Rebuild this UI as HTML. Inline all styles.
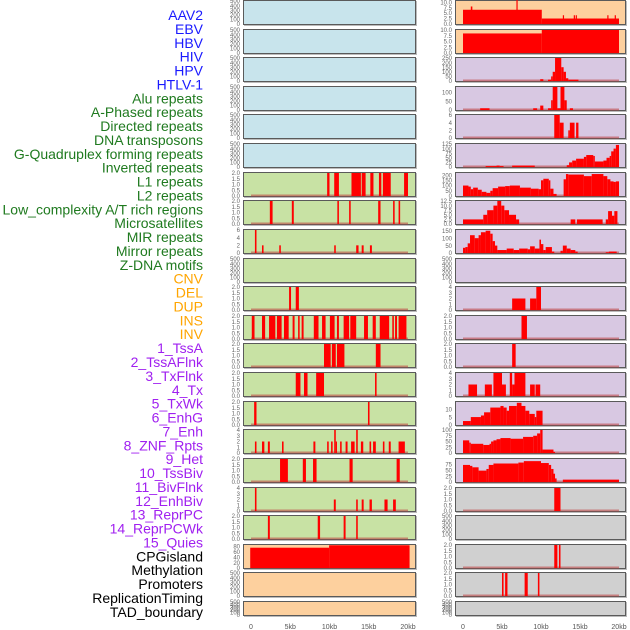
<!DOCTYPE html>
<html><head><meta charset="utf-8"><style>
html,body{margin:0;padding:0;background:#fff;}
svg{display:block;font-family:"Liberation Sans",sans-serif;}
</style></head><body>
<svg id="chart" width="630" height="630" viewBox="0 0 630 630" xmlns="http://www.w3.org/2000/svg">
<g id="labels"></g>
<g id="panels"></g>
<g id="xaxes"></g>
</svg>
<script>
// ---- data ----
const trackLabels = ["AAV2","EBV","HBV","HIV","HPV","HTLV-1","Alu repeats","A-Phased repeats","Directed repeats","DNA transposons","G-Quadruplex forming repeats","Inverted repeats","L1 repeats","L2 repeats","Low_complexity A/T rich regions","Microsatellites","MIR repeats","Mirror repeats","Z-DNA motifs","CNV","DEL","DUP","INS","INV","1_TssA","2_TssAFlnk","3_TxFlnk","4_Tx","5_TxWk","6_EnhG","7_Enh","8_ZNF_Rpts","9_Het","10_TssBiv","11_BivFlnk","12_EnhBiv","13_ReprPC","14_ReprPCWk","15_Quies","CPGisland","Methylation","Promoters","ReplicationTiming","TAD_boundary"];
const labelGroups = [6,13,5,15,5];
const labelColors = ["#1a1aff","#1f7a1f","#ffa500","#a020f0","#000000"];
const xTickValues = [0,5,10,15,20];
const xTickLabels = ["0","5kb","10kb","15kb","20kb"];
const E = [0,100,200,300,400,500];
const leftTicks = [E,E,E,E,E,E,[0,0.5,1,1.5,2],[0,0.5,1,1.5,2],[0,2,4,6],E,[0,0.5,1,1.5,2],[0,0.5,1,1.5,2],[0,0.5,1,1.5,2],[0,0.5,1,1.5,2],[0,0.5,1,1.5,2],[0,1,2,3,4],[0,0.5,1,1.5,2],[0,1,2,3,4],[0,0.5,1,1.5,2],[0,20,40,60,80],E,E];
const leftMax = [500,500,500,500,500,500,2,2,6,500,2,2,2,2,2,4,2,4,2,85,500,500];
const leftSegs = [[],[],[],[],[],[],
[[9.7,10.0,2],[10.6,11.2,2],[12.8,14.0,2],[14.1,14.6,2],[15.2,15.6,2],[16.3,16.6,2],[16.8,17.8,2],[19.5,20.0,2]],
[[2.4,2.75,2],[5.2,5.45,2],[11.0,11.2,2],[12.5,12.7,2],[16.2,16.5,2],[18.1,18.3,2],[18.8,19.0,2]],
[[0.5,0.7,6],[1.4,1.6,2],[3.6,3.8,2],[10.6,10.8,2],[13.4,13.7,2],[14.1,14.35,2],[15.15,15.4,2]],
[],
[[4.85,5.1,2],[5.7,6.1,2]],
[[0.1,0.45,2],[1.4,1.8,2],[2.3,3.1,2],[3.3,3.9,2],[4.2,4.8,2],[5.3,5.55,2],[6.0,6.2,2],[6.45,6.7,2],[8.0,8.6,2],[9.05,9.5,2],[10.05,10.65,2],[10.95,11.2,2],[11.8,12.5,2],[12.65,13.4,2],[14.4,14.9,2],[15.5,15.9,2],[16.4,17.6,2],[18.0,18.2,2],[18.35,18.6,2],[18.8,19.8,2]],
[[9.3,10.15,2],[10.3,10.8,2],[10.95,11.9,2],[15.9,16.5,2]],
[[5.7,6.3,2],[6.75,7.2,2],[8.3,9.3,2],[15.8,16.0,2]],
[[0.4,0.7,2],[14.9,15.1,2]],
[[0.5,0.7,2],[1.4,1.7,2],[2.15,2.4,2],[3.95,4.15,2],[7.95,8.2,2],[9.7,9.9,2],[10.2,10.4,2],[10.6,10.8,4],[10.8,10.9,2],[11.35,11.55,2],[12.05,12.3,2],[12.75,13.2,2],[13.4,13.6,4],[14.0,14.3,2],[15.1,15.3,2],[15.55,15.9,2],[16.8,17.0,2],[17.55,17.8,2],[18.8,19.6,2]],
[[3.7,4.7,2],[6.6,7.0,2],[7.9,8.35,2],[12.55,12.95,2],[18.55,18.95,2]],
[[0.5,0.7,4],[10.55,10.8,2],[13.4,13.6,2],[14.1,14.35,2],[15.1,15.4,2],[17.0,17.4,2],[18.1,18.45,2]],
[[2.15,2.4,2],[8.5,8.8,2],[11.8,12.05,2],[13.4,13.6,2]],
[[-0.1,9.95,75],[9.95,20.2,84]],
[],[]];
const rightTicks = [[0,2.5,5,7.5,10],[0,2.5,5,7.5,10],[0,50,100,150,200,250],[0,50,100],[0,2,4,6],[0,25,50,75,100,125],[0,50,100,150,200],[0,2.5,5,7.5,10,12.5],[0,50,100,150],E,[0,1,2,3,4],[0,0.5,1,1.5,2],[0,0.5,1,1.5,2],[0,1,2,3,4],[0,5,10],[0,25,50,75,100],[0,25,50,75],[0,0.5,1,1.5,2],E,[0,0.5,1,1.5,2],[0,0.5,1,1.5,2],E];
const rightMax = [10.5,10,250,130,6,125,220,12.5,155,500,4,2,2,4,14.5,100,97,2,500,2,2,500];
const rightSegs = [
[[0,10.1,6.5],[1.0,1.2,8],[6.85,7.0,11],[10.1,20,2.5],[12.8,12.95,4],[14.2,14.3,4],[14.45,14.55,4],[18.5,18.6,4],[19.45,19.55,4]],
[[0,10.1,8.5],[10.1,20,10]],
[[9.9,10.3,20],[10.9,11.3,15],[11.3,11.5,50],[11.5,11.8,100],[11.8,12.6,250],[12.6,12.9,150],[12.9,13.2,100],[13.2,13.5,30],[13.5,14.8,15]],
[[2.2,3.4,10],[9.0,9.5,10],[9.9,10.3,25],[10.9,11.3,10],[11.3,11.5,55],[11.5,12.1,130],[12.1,12.5,10],[12.5,13.0,130],[13.0,13.3,55],[13.7,14.1,10]],
[[11.7,12.4,6],[12.4,12.9,4],[13.5,13.7,2],[13.7,14.3,4],[14.5,14.8,4]],
[[2.9,4.3,5],[4.3,4.7,8],[4.7,5.2,5],[6.3,9.2,8],[13.3,13.6,10],[13.6,14.0,25],[14.0,14.5,35],[14.5,15.5,45],[15.5,15.8,55],[15.8,16.7,65],[16.7,16.9,60],[16.9,18.0,30],[18.0,18.4,35],[18.4,18.8,50],[18.8,19.0,60],[19.0,19.3,85],[19.3,19.6,100],[19.6,20.0,120]],
[[0,0.7,100],[0.7,1.0,90],[1.0,1.3,65],[1.3,1.9,80],[1.9,2.4,60],[2.4,3.0,40],[3.0,3.5,30],[3.5,3.8,50],[3.8,4.5,75],[4.5,5.4,90],[5.4,6.0,95],[6.0,7.3,100],[7.3,8.7,80],[8.7,9.7,70],[9.7,10.0,65],[10.0,10.3,150],[10.3,11.0,165],[11.0,11.2,150],[11.2,11.6,70],[11.6,12.0,20],[12.9,13.2,160],[13.2,13.5,210],[13.5,15.5,205],[15.5,16.5,190],[16.5,18.0,210],[18.0,18.5,190],[18.5,18.9,160],[18.9,19.3,140],[19.3,19.6,135],[19.6,20.0,140]],
[[0,2.6,2.5],[2.6,3.1,5],[3.1,3.9,7.5],[3.9,4.4,10],[4.4,4.9,12.5],[4.9,5.3,10],[5.3,5.9,7.5],[5.9,6.8,5],[6.8,7.2,2.5],[13.8,14.4,2.5],[14.6,17.9,2.5],[18.3,18.6,2.5],[18.6,19.1,7],[19.1,19.4,4.5],[19.4,19.8,7]],
[[0,0.3,35],[0.3,0.6,40],[0.6,0.9,65],[0.9,1.5,120],[1.5,2.0,100],[2.0,2.3,120],[2.3,2.9,140],[2.9,3.5,150],[3.5,3.8,130],[3.8,4.1,80],[4.1,4.4,50],[4.4,5.6,20],[5.6,6.5,30],[6.5,7.2,20],[7.2,8.3,30],[8.3,8.6,25],[8.6,9.2,45],[9.2,9.8,30],[9.8,10.0,90],[10.0,10.3,60],[10.3,10.6,20],[10.6,11.4,40],[11.4,11.7,10],[12.5,12.8,15],[12.8,13.3,50],[13.3,13.8,30],[13.8,14.4,20],[14.4,14.7,10],[18.3,18.7,5],[18.7,19.7,10]],
[],
[[6.3,8.0,2],[8.6,9.4,2],[9.4,10.0,4]],
[[7.5,8.2,2]],
[[6.3,6.75,2]],
[[0.7,1.8,2],[2.8,3.7,2],[3.9,5.0,4],[5.0,5.5,2],[6.0,6.3,4],[6.3,6.6,2],[6.6,8.0,4],[8.6,9.2,2],[9.3,9.9,2]],
[[0,1.0,2.5],[1.0,2.3,5],[2.3,2.7,6],[2.7,3.5,8],[3.5,4.8,11],[4.8,5.2,12],[5.2,5.6,11],[5.6,5.9,9],[5.9,6.9,12],[6.9,7.5,14],[7.5,8.0,12],[8.0,8.5,9],[8.5,9.2,7],[9.2,9.4,5],[9.4,10.2,9]],
[[0,0.8,55],[0.8,1.0,45],[1.0,2.6,40],[2.6,3.4,35],[3.4,3.6,40],[3.6,3.9,50],[3.9,4.3,55],[4.3,4.8,60],[4.8,6.1,65],[6.1,7.7,62],[7.7,9.0,70],[9.0,9.5,75],[9.5,9.9,85],[9.9,10.2,100],[10.2,11.6,15],[11.6,11.8,5]],
[[0,0.9,72],[0.9,1.2,68],[1.2,2.0,62],[2.0,3.0,48],[3.0,3.3,55],[3.3,3.9,72],[3.9,7.1,78],[7.1,7.8,82],[7.8,10.0,88],[10.0,11.0,80],[11.0,11.3,72],[11.3,11.6,55],[11.6,11.8,35],[11.8,12.0,15],[12.8,20.0,10]],
[[11.7,12.5,2]],
[],
[[11.7,12.1,2],[12.3,12.5,2]],
[[5.0,5.2,2],[5.4,5.7,2],[7.9,8.3,2],[9.6,9.8,2]],
[]];
const leftFills = ["#c8e4ec","#c8e4ec","#c8e4ec","#c8e4ec","#c8e4ec","#c8e4ec","#c8e2a4","#c8e2a4","#c8e2a4","#c8e2a4","#c8e2a4","#c8e2a4","#c8e2a4","#c8e2a4","#c8e2a4","#c8e2a4","#c8e2a4","#c8e2a4","#c8e2a4","#fdd09e","#fdd09e","#fdd09e"];
const rightFills = ["#fdd09e","#fdd09e","#d8c8e2","#d8c8e2","#d8c8e2","#d8c8e2","#d8c8e2","#d8c8e2","#d8c8e2","#d8c8e2","#d8c8e2","#d8c8e2","#d8c8e2","#d8c8e2","#d8c8e2","#d8c8e2","#d8c8e2","#d0d0d0","#d0d0d0","#d0d0d0","#d0d0d0","#d0d0d0"];

// ---- drawing ----
const NS="http://www.w3.org/2000/svg";
function mk(tag,attrs,parent){const e=document.createElementNS(NS,tag);for(const k in attrs)e.setAttribute(k,attrs[k]);parent.appendChild(e);return e;}
const cols=[{fx:243,fw:173,x0:251,x1:408,segs:leftSegs,ticks:leftTicks,max:leftMax,fills:leftFills,name:'left'},
            {fx:455,fw:171,x0:463,x1:619,segs:rightSegs,ticks:rightTicks,max:rightMax,fills:rightFills,name:'right'}];
const labG=document.getElementById('labels');
let gi=0,cnt=0;
trackLabels.forEach((t,i)=>{
  while(cnt>=labelGroups[gi]){cnt=0;gi++;}
  cnt++;
  const e=mk('text',{x:203,y:20+i*13.88,'text-anchor':'end','font-size':14,fill:labelColors[gi]},labG);
  
  
  e.textContent=t;
});
const pg=document.getElementById('panels');
function fmt(v,ticks){const dec=ticks.some(x=>x%1!==0);return dec?v.toFixed(1):String(v);}
cols.forEach(c=>{
  const xs=kb=>c.x0+(kb/20)*(c.x1-c.x0);
  for(let i=0;i<22;i++){
    const top=Math.round(i*28.62), h=(i===21)?15:25;
    const g=mk('g',{},pg);
    
    
    mk('rect',{x:c.fx+1,y:top+1,width:c.fw,height:h,fill:'#bbb'},g);
    const fr=mk('rect',{x:c.fx+0.5,y:top+0.5,width:c.fw-1,height:h-1,fill:c.fills[i],stroke:'#5a5a5a','stroke-width':1},g);
    
    
    const ymax=c.max[i];
    const ys=v=>top+h-1-(v/ymax)*(h-2);
    c.ticks[i].forEach(v=>{
      const tt=mk('text',{x:c.fx-3,y:ys(v)+2.2,'text-anchor':'end','font-size':6,fill:'#666'},g);
      
      
      tt.textContent=fmt(v,c.ticks[i]);
    });
    const segs=c.segs[i];
    if(segs.length){
      mk('line',{x1:xs(0),x2:xs(20),y1:ys(0)-0.5,y2:ys(0)-0.5,stroke:'rgba(190,60,60,0.55)','stroke-width':2},g);
      segs.forEach(s=>{
        const b=mk('rect',{x:xs(s[0]),y:ys(s[2]),width:Math.max(1.2,xs(s[1])-xs(s[0])),height:ys(0)-ys(s[2]),fill:'#ff0000'},g);
        
        
      });
    }
  }
  const xg=document.getElementById('xaxes');
  xTickValues.forEach((v,k)=>{
    const t=mk('text',{x:xs(v),y:629,'text-anchor':'middle','font-size':7,fill:'#555'},xg);
    
    
    t.textContent=xTickLabels[k];
  });
});
</script>
</body></html>
